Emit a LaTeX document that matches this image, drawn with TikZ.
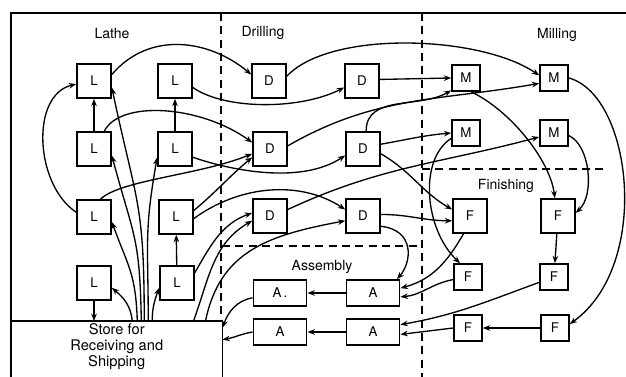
\documentclass[tikz,border=0pt]{standalone}
\usepackage{fontspec}
\setmainfont{TeX Gyre Heros}
\usetikzlibrary{arrows.meta}

\begin{document}
\begin{tikzpicture}[
  x=0.75pt, y=0.75pt,
  font=\fontsize{10}{12}\selectfont,
  mach/.style={draw, line width=1.2pt, minimum size=25.5pt, inner sep=0pt},
  small/.style={mach, minimum width=21pt, minimum height=19.5pt},
  asm/.style={mach, minimum width=40pt, minimum height=19.5pt},
  lab/.style={font=\fontsize{10.5}{12}\selectfont},
  zone/.style={line width=1pt, dash pattern=on 6pt off 4pt},
  arrow/.style={-{Stealth[length=5.5pt, width=4.2pt]}, line width=1pt}
]
\useasboundingbox (0,0) rectangle (626,-377);

% frame and departments
\draw[line width=1.2pt] (626,-13) -- (11,-13) -- (11,-380);
\draw[zone] (221,-13) -- (221,-321);
\draw[zone] (422,-13) -- (422,-380);
\draw[zone] (222,-246) -- (422,-246);
\draw[zone] (422,-169) -- (604,-169);

\node[lab] (lathe) at (112,-34) {Lathe};
\node[lab] (drill) at (263,-33) {Drilling};
\node[lab] (mill) at (557,-35) {Milling};
\node[lab] (finish) at (506,-186) {Finishing};
\node[lab] (assem) at (322,-267) {Assembly};

\node[anchor=north west, minimum width=158.25pt, minimum height=37.5pt, inner sep=0pt,
  align=center, font=\fontsize{11}{12}\selectfont] (store) at (11,-321)
  {Store for\\Receiving and\\Shipping};
\draw[line width=1.2pt] (store.north west) -- (store.north east) -- (store.east |- 0,-380);

% machines
\node[mach] (L11) at (94,-81) {L};
\node[mach] (L12) at (175,-81) {L};
\node[mach] (L21) at (94,-149) {L};
\node[mach] (L22) at (175,-149) {L};
\node[mach] (L31) at (94,-217) {L};
\node[mach] (L32) at (176,-217) {L};
\node[mach] (L41) at (94,-283) {L};
\node[mach] (L42) at (177,-283) {L};

\node[mach] (D11) at (269,-81) {D};
\node[mach] (D12) at (362,-81) {D};
\node[mach] (D21) at (270,-149) {D};
\node[mach] (D22) at (363,-149) {D};
\node[mach] (D31) at (270,-216) {D};
\node[mach] (D32) at (363,-216) {D};

\node[small] (M11) at (466,-78) {M};
\node[small] (M12) at (554,-78) {M};
\node[small] (M21) at (466,-133) {M};
\node[small] (M22) at (554,-133) {M};

\node[mach] (F11) at (470,-216) {F};
\node[mach] (F12) at (558,-216) {F};
\node[small] (F21) at (468,-277) {F};
\node[small] (F22) at (554,-277) {F};
\node[small] (F31) at (468,-328) {F};
\node[small] (F32) at (555,-328) {F};

\node[asm] (A11) at (280,-293) {A\,.};
\node[asm] (A12) at (373,-293) {A};
\node[asm] (A21) at (280,-332) {A};
\node[asm] (A22) at (373,-332) {A};

% store to lathes
\draw[arrow] ([xshift=11.6pt]store.north) to[out=95,in=-40] (L41.-15);
\draw[arrow] ([xshift=15.4pt]store.north) to[out=92,in=-70,looseness=1.2] (L31.-15);
\draw[arrow] ([xshift=18.4pt]store.north) to[out=91,in=-75,looseness=1.3] (L21.-20);
\draw[arrow] ([xshift=20.6pt]store.north) to[out=90,in=-78,looseness=1.3] (L11.-20);
\draw[arrow] ([xshift=23.6pt]store.north) to[out=90,in=-100,looseness=1.2] (L22.205);
\draw[arrow] ([xshift=26.6pt]store.north) to[out=90,in=-110] (L42.195);
\draw[arrow] (L41) -- (L41 |- store.north);

% lathes
\draw[arrow] (L21) -- (L11);
\draw[arrow] (L22) -- (L12);
\draw[arrow] (L42) -- (L32);
\draw[arrow] (L31.165) .. controls (35,-185) and (30,-95) .. (L11.190);
\draw[arrow] (L11.20) .. controls (150,-30) and (210,-40) .. (D11.160);
\draw[arrow] (L12.-20) .. controls (225,-110) and (300,-110) .. (D12.200);
\draw[arrow] (L21.60) .. controls (120,-100) and (200,-105) .. (D21.160);
\draw[arrow] (L22.-25) .. controls (230,-170) and (300,-185) .. (D22.200);
\draw[arrow] (L31.70) .. controls (120,-180) and (200,-175) .. (D21.195);
\draw[arrow] (L32.20) to[out=40,in=220] (D21.205);
\draw[arrow] (L32.-5) .. controls (240,-185) and (300,-180) .. (D32.160);
\draw[arrow] (L42.30) to[out=60,in=200] (D31.170);
\draw[arrow] ([xshift=-21.75pt]store.north east) to[out=70,in=210] (D31.195);
\draw[arrow] ([xshift=-12.75pt]store.north east) .. controls (220,-250) and (270,-235) .. (D32.195);

% drills
\draw[arrow] (D11.15) .. controls (330,-30) and (480,-35) .. (M12.170);
\draw[arrow] (D12.5) -- (M11.west);
\draw[arrow] (D21.10) to[out=30,in=190] (M12.200);
\draw[arrow] (D22.80) to[out=90,in=210] (M11.220);
\draw[arrow] (D22.15) to[out=10,in=185] (M21.west);
\draw[arrow] (D22.-15) to[out=-30,in=150] (F11.160);
\draw[arrow] (D31.20) to[out=25,in=195] (M22.195);
\draw[arrow] (D32.5) to[out=0,in=180] (F11.195);
\draw[arrow] (D32.-30) .. controls (415,-230) and (412,-262) .. (A12.30);

% mills
\draw[arrow] (M11.-70) .. controls (510,-110) and (550,-160) .. (F12.100);
\draw[arrow] (M12.east) .. controls (632,-95) and (652,-265) .. (F32.15);
\draw[arrow] (M22.-10) .. controls (590,-145) and (595,-195) .. (F12.10);
\draw[arrow] (M21.200) .. controls (418,-160) and (425,-230) .. (F21.120);

% finishing
\draw[arrow] (F12) -- (F22);
\draw[arrow] (F32) -- (F31);
\draw[arrow] (F11.250) to[out=240,in=15] (A12.10);
\draw[arrow] (F21.190) to[out=190,in=5] (A12.-8);
\draw[arrow] (F22.200) to[out=200,in=10] (A22.15);
\draw[arrow] (F31.west) -- (A22.-5);

% assembly
\draw[arrow] (A12) -- (A11);
\draw[arrow] (A22) -- (A21);
\draw[arrow] (A11.190) to[out=190,in=70] ([yshift=-5pt]store.north east);
\draw[arrow] (A21.west) to[out=190,in=10] ([yshift=-14pt]store.north east);
\end{tikzpicture}
\end{document}
